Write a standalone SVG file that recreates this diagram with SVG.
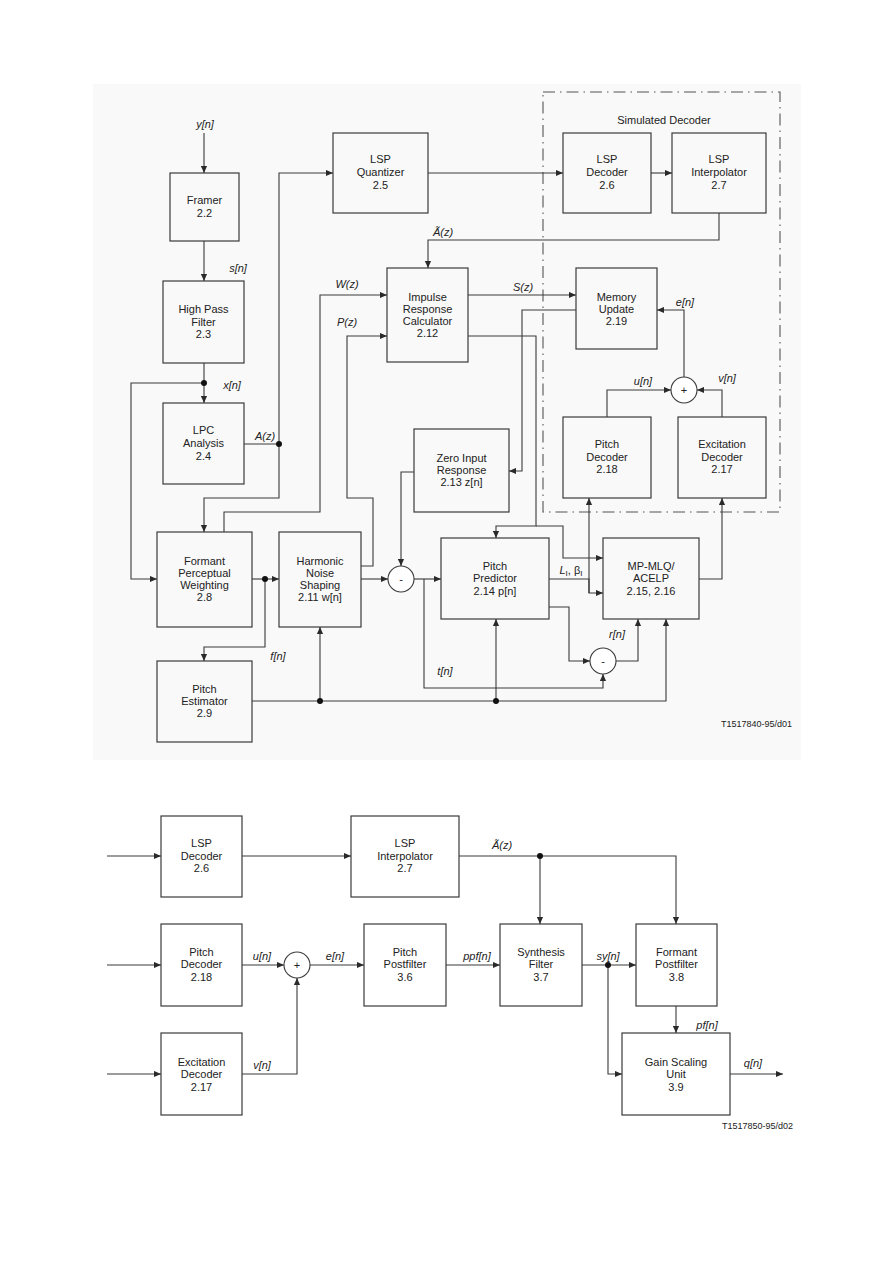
<svg xmlns="http://www.w3.org/2000/svg" width="893" height="1263" viewBox="0 0 893 1263">
<defs>
<marker id="arr" viewBox="0 0 8 8" refX="8" refY="4" markerWidth="8" markerHeight="7" markerUnits="userSpaceOnUse" orient="auto">
<path d="M0,0.5 L8,4 L0,7.5 z" fill="#2a2a2a"/>
</marker>
<style>
.box{fill:none;stroke:#3a3a3a;stroke-width:1.2}
.sum{fill:#ffffff;stroke:#3a3a3a;stroke-width:1.1}
.ln{fill:none;stroke:#3a3a3a;stroke-width:1.1}
.ar{fill:none;stroke:#3a3a3a;stroke-width:1.1;marker-end:url(#arr)}
.dot{fill:#111}
.t{font-family:"Liberation Sans",Arial,sans-serif;font-size:11px;fill:#222;text-anchor:middle}
.lb{font-family:"Liberation Sans",Arial,sans-serif;font-size:11px;font-style:italic;fill:#222;text-anchor:middle}
.sm{font-family:"Liberation Sans",Arial,sans-serif;font-size:9px;fill:#222;text-anchor:end}
.dd{fill:none;stroke:#555;stroke-width:1.1;stroke-dasharray:12 5 1.5 5}
</style>
</defs>
<rect x="93" y="84" width="708" height="676" fill="#f9f9f9"/>
<rect x="543" y="92" width="237" height="420" class="dd"/>
<text x="664" y="124" class="t">Simulated Decoder</text>

<g id="connectors">
<path class="ar" d="M204,133 V173"/>
<path class="ar" d="M204,241 V281"/>
<path class="ar" d="M204,363 V403"/>
<path class="ar" d="M204,383 H131 V579 H157"/>
<path class="ln" d="M244,444 H279"/>
<path class="ar" d="M279,444 V173 H333"/>
<path class="ar" d="M279,444 V498 H204 V532"/>
<path class="ar" d="M224,532 V512 H320 V295 H387"/>
<path class="ar" d="M361,566 H373 V498 H347 V336 H387"/>
<path class="ar" d="M252,579 H279"/>
<path class="ar" d="M265,579 V647 H204 V661"/>
<path class="ar" d="M361,579 H388"/>
<path class="ar" d="M414,472 H401 V566"/>
<path class="ar" d="M414,579 H441"/>
<path class="ar" d="M424,579 V688 H603 V674"/>
<path class="ar" d="M252,701 H666 V619"/>
<path class="ar" d="M320,701 V627"/>
<path class="ar" d="M496,701 V619"/>
<path class="ar" d="M549,607 H569 V661 H590"/>
<path class="ar" d="M616,661 H638 V619"/>
<path class="ar" d="M549,579 H589 V593 H603"/>
<path class="ar" d="M589,593 V498"/>
<path class="ar" d="M699,579 H722 V498"/>
<path class="ar" d="M468,336 H536 V526 H496 V538"/>
<path class="ar" d="M536,526 H563 V558 H603"/>
<path class="ar" d="M576,310 H522 V471 H509"/>
<path class="ar" d="M468,295 H576"/>
<path class="ar" d="M684,377 V310 H657"/>
<path class="ar" d="M607,417 V390 H671"/>
<path class="ar" d="M722,417 V390 H697"/>
<path class="ar" d="M428,173 H563"/>
<path class="ar" d="M651,173 H672"/>
<path class="ar" d="M719,213 V240 H428 V268"/>
<circle class="dot" cx="204" cy="383" r="3"/>
<circle class="dot" cx="279" cy="444" r="3"/>
<circle class="dot" cx="265" cy="579" r="3"/>
<circle class="dot" cx="320" cy="701" r="3"/>
<circle class="dot" cx="496" cy="701" r="3"/>

<path class="ar" d="M107,856 H161"/>
<path class="ar" d="M242,856 H351"/>
<path class="ar" d="M459,856 H676 V924"/>
<path class="ar" d="M540,856 V924"/>
<path class="ar" d="M107,965 H161"/>
<path class="ar" d="M242,965 H284"/>
<path class="ar" d="M310,965 H364"/>
<path class="ar" d="M446,965 H500"/>
<path class="ar" d="M582,965 H636"/>
<path class="ar" d="M608,965 V1074 H622"/>
<path class="ar" d="M676,1006 V1033"/>
<path class="ar" d="M730,1074 H783"/>
<path class="ar" d="M107,1074 H161"/>
<path class="ar" d="M242,1074 H297 V978"/>
<circle class="dot" cx="540" cy="856" r="3"/>
<circle class="dot" cx="608" cy="965" r="3"/>
</g>

<g id="labels">
<text x="205" y="128" class="lb">y[n]</text>
<text x="238" y="272" class="lb">s[n]</text>
<text x="232" y="389" class="lb">x[n]</text>
<text x="265" y="440" class="lb">A(z)</text>
<text x="347" y="288" class="lb">W(z)</text>
<text x="347" y="326" class="lb">P(z)</text>
<text x="443" y="236" class="lb">Ã(z)</text>
<text x="523" y="291" class="lb">S(z)</text>
<text x="685" y="306" class="lb">e[n]</text>
<text x="643" y="385" class="lb">u[n]</text>
<text x="727" y="382" class="lb">v[n]</text>
<text x="278" y="660" class="lb">f[n]</text>
<text x="445" y="675" class="lb">t[n]</text>
<text x="617" y="638" class="lb">r[n]</text>
<text x="571" y="574" class="lb">L<tspan font-size="8" dy="2" font-style="normal">I</tspan><tspan dy="-2" font-style="normal">, β</tspan><tspan font-size="8" dy="2" font-style="normal">I</tspan></text>
<text x="792" y="727" class="sm">T1517840-95/d01</text>

<text x="502" y="849" class="lb">Ã(z)</text>
<text x="262" y="960" class="lb">u[n]</text>
<text x="335" y="960" class="lb">e[n]</text>
<text x="477" y="960" class="lb">ppf[n]</text>
<text x="608" y="960" class="lb">sy[n]</text>
<text x="707" y="1029" class="lb">pf[n]</text>
<text x="753" y="1067" class="lb">q[n]</text>
<text x="262" y="1069" class="lb">v[n]</text>
<text x="793" y="1129" class="sm">T1517850-95/d02</text>
</g>

<g id="framer"><rect class="box" x="170" y="173" width="69" height="68"/>
<text class="t" x="204.5" y="204">Framer</text><text class="t" x="204.5" y="217">2.2</text></g>
<g id="hpf"><rect class="box" x="163" y="281" width="81" height="82"/>
<text class="t" x="203.5" y="313">High Pass</text><text class="t" x="203.5" y="326">Filter</text><text class="t" x="203.5" y="338">2.3</text></g>
<g id="lpc"><rect class="box" x="163" y="403" width="81" height="81"/>
<text class="t" x="203.5" y="434">LPC</text><text class="t" x="203.5" y="447">Analysis</text><text class="t" x="203.5" y="460">2.4</text></g>
<g id="lspq"><rect class="box" x="333" y="133" width="95" height="80"/>
<text class="t" x="380.5" y="163">LSP</text><text class="t" x="380.5" y="176">Quantizer</text><text class="t" x="380.5" y="189">2.5</text></g>
<g id="lspdec"><rect class="box" x="563" y="133" width="88" height="80"/>
<text class="t" x="607" y="163">LSP</text><text class="t" x="607" y="176">Decoder</text><text class="t" x="607" y="189">2.6</text></g>
<g id="lspint"><rect class="box" x="672" y="133" width="94" height="80"/>
<text class="t" x="719" y="163">LSP</text><text class="t" x="719" y="176">Interpolator</text><text class="t" x="719" y="189">2.7</text></g>
<g id="impulse"><rect class="box" x="387" y="268" width="81" height="94"/>
<text class="t" x="427.5" y="301">Impulse</text><text class="t" x="427.5" y="313">Response</text><text class="t" x="427.5" y="325">Calculator</text><text class="t" x="427.5" y="337">2.12</text></g>
<g id="memory"><rect class="box" x="576" y="268" width="81" height="81"/>
<text class="t" x="616.5" y="301">Memory</text><text class="t" x="616.5" y="313">Update</text><text class="t" x="616.5" y="325">2.19</text></g>
<g id="zero"><rect class="box" x="414" y="429" width="95" height="83"/>
<text class="t" x="461.5" y="462">Zero Input</text><text class="t" x="461.5" y="474">Response</text><text class="t" x="461.5" y="486">2.13 z[n]</text></g>
<g id="pitchdec"><rect class="box" x="563" y="417" width="88" height="81"/>
<text class="t" x="607" y="448">Pitch</text><text class="t" x="607" y="461">Decoder</text><text class="t" x="607" y="473">2.18</text></g>
<g id="excdec"><rect class="box" x="678" y="417" width="88" height="81"/>
<text class="t" x="722" y="448">Excitation</text><text class="t" x="722" y="461">Decoder</text><text class="t" x="722" y="473">2.17</text></g>
<g id="sumplus"><circle class="sum" cx="684" cy="390" r="13"/><text class="t" x="684" y="394" font-size="9">+</text></g>
<g id="formant"><rect class="box" x="157" y="532" width="95" height="95"/>
<text class="t" x="204.5" y="565">Formant</text><text class="t" x="204.5" y="577">Perceptual</text><text class="t" x="204.5" y="589">Weighting</text><text class="t" x="204.5" y="601">2.8</text></g>
<g id="harmonic"><rect class="box" x="279" y="532" width="82" height="95"/>
<text class="t" x="320" y="565">Harmonic</text><text class="t" x="320" y="577">Noise</text><text class="t" x="320" y="589">Shaping</text><text class="t" x="320" y="601">2.11 w[n]</text></g>
<g id="sum1"><circle class="sum" cx="401" cy="579" r="13"/><text class="t" x="401" y="583">-</text></g>
<g id="pitchpred"><rect class="box" x="441" y="538" width="108" height="81"/>
<text class="t" x="495" y="570">Pitch</text><text class="t" x="495" y="582">Predictor</text><text class="t" x="495" y="595">2.14 p[n]</text></g>
<g id="mpmlq"><rect class="box" x="603" y="538" width="96" height="81"/>
<text class="t" x="651" y="570">MP-MLQ/</text><text class="t" x="651" y="582">ACELP</text><text class="t" x="651" y="595">2.15, 2.16</text></g>
<g id="sum2"><circle class="sum" cx="603" cy="661" r="13"/><text class="t" x="603" y="665">-</text></g>
<g id="pitchest"><rect class="box" x="157" y="661" width="95" height="81"/>
<text class="t" x="204.5" y="693">Pitch</text><text class="t" x="204.5" y="705">Estimator</text><text class="t" x="204.5" y="717">2.9</text></g>

<g id="lspdec2"><rect class="box" x="161" y="816" width="81" height="81"/>
<text class="t" x="201.5" y="847">LSP</text><text class="t" x="201.5" y="860">Decoder</text><text class="t" x="201.5" y="872">2.6</text></g>
<g id="lspint2"><rect class="box" x="351" y="816" width="108" height="81"/>
<text class="t" x="405" y="847">LSP</text><text class="t" x="405" y="860">Interpolator</text><text class="t" x="405" y="872">2.7</text></g>
<g id="pitchdec2"><rect class="box" x="161" y="924" width="81" height="82"/>
<text class="t" x="201.5" y="956">Pitch</text><text class="t" x="201.5" y="968">Decoder</text><text class="t" x="201.5" y="981">2.18</text></g>
<g id="sum3"><circle class="sum" cx="297" cy="965" r="13"/><text class="t" x="297" y="969" font-size="9">+</text></g>
<g id="excdec2"><rect class="box" x="161" y="1033" width="81" height="82"/>
<text class="t" x="201.5" y="1066">Excitation</text><text class="t" x="201.5" y="1078">Decoder</text><text class="t" x="201.5" y="1091">2.17</text></g>
<g id="pitchpost"><rect class="box" x="364" y="924" width="82" height="82"/>
<text class="t" x="405" y="956">Pitch</text><text class="t" x="405" y="968">Postfilter</text><text class="t" x="405" y="981">3.6</text></g>
<g id="synth"><rect class="box" x="500" y="924" width="82" height="82"/>
<text class="t" x="541" y="956">Synthesis</text><text class="t" x="541" y="968">Filter</text><text class="t" x="541" y="981">3.7</text></g>
<g id="formpost"><rect class="box" x="636" y="924" width="81" height="82"/>
<text class="t" x="676.5" y="956">Formant</text><text class="t" x="676.5" y="968">Postfilter</text><text class="t" x="676.5" y="981">3.8</text></g>
<g id="gain"><rect class="box" x="622" y="1033" width="108" height="82"/>
<text class="t" x="676" y="1066">Gain Scaling</text><text class="t" x="676" y="1078">Unit</text><text class="t" x="676" y="1091">3.9</text></g>
</svg>
